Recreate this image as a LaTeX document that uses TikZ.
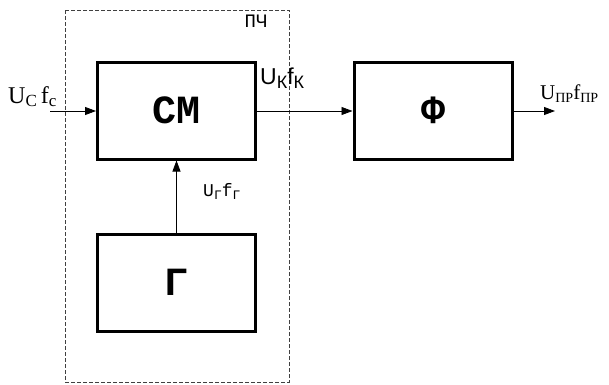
\documentclass[tikz,border=0pt]{standalone}
\usepackage{fontspec}
\setmainfont{Liberation Serif}
\newfontfamily\monof{Liberation Mono}
\newfontfamily\sansf{Liberation Sans}
\usetikzlibrary{arrows.meta}
\newcommand{\lowsub}[2]{\raisebox{-0.35ex}{\fontsize{#1}{#1}\selectfont #2}}
\tikzset{
  blk/.style={draw, line width=3pt, minimum width=158pt, minimum height=97pt, inner sep=0pt, font=\monof\bfseries\fontsize{40}{40}\selectfont},
  conn/.style={line width=0.8pt, -{Triangle[length=11pt,width=8pt]}},
  lbl/.style={inner sep=0pt, anchor=base west}
}
\begin{document}
\begin{tikzpicture}[x=1pt,y=-1pt]
\useasboundingbox (0,0) rectangle (609,384);
\draw[line width=1pt, black!75, dash pattern=on 4pt off 2pt] (65,10) rectangle (289,382);
\node[lbl, anchor=center, font=\monof\fontsize{19}{19}\selectfont] (pch) at (256,21) {ПЧ};
\node[blk] (cm) at (176.5,110.5) {СМ};
\node[blk] (g) at (176.5,282.5) {Г};
\node[blk] (f) at (433,110.5) {Ф};
\coordinate (in) at (50,111);
\coordinate (out) at (555,111);
\draw[conn] (in) -- (cm.west |- in);
\draw[conn] (cm.east |- in) -- (f.west |- in);
\draw[conn] (f.east |- in) -- (out);
\draw[conn] (g.north) -- (cm.south);
\node[lbl, font=\fontsize{24}{24}\selectfont] (uc) at (8,103) {U\lowsub{17}{С}\,f\lowsub{17}{с}};
\node[lbl, font=\sansf\fontsize{23}{23}\selectfont] (uk) at (260,84) {U\lowsub{18}{К}f\lowsub{18}{К}};
\node[lbl, font=\monof\fontsize{18}{18}\selectfont] (ug) at (203,196) {U\lowsub{13}{Г}f\lowsub{13}{Г}};
\node[lbl, font=\fontsize{21}{21}\selectfont] (upr) at (540,99) {U\lowsub{14}{ПР}f\lowsub{14}{ПР}};
\end{tikzpicture}
\end{document}
